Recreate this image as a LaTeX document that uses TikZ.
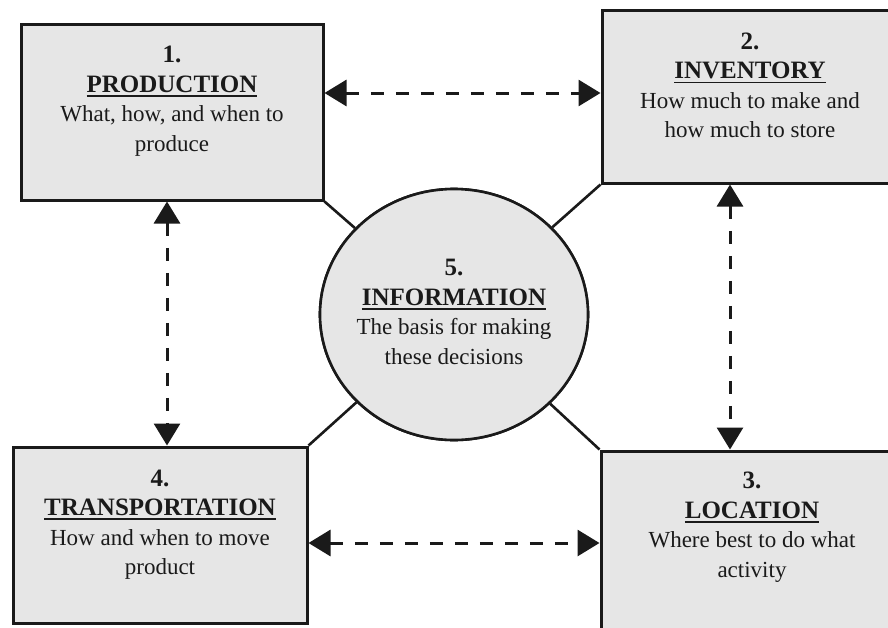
\documentclass[tikz,border=0pt]{standalone}
\usepackage{fontspec}
\setmainfont{Liberation Serif}
\usetikzlibrary{arrows.meta,shapes.geometric}
\definecolor{boxgray}{HTML}{E6E6E6}
\definecolor{ink}{HTML}{1A1A1A}
\newcommand\ulhead[1]{\setbox0\hbox{\bfseries\fontsize{25}{29.5}\selectfont #1}\rlap{\color{ink}\rule[-4.5pt]{\wd0}{1.8pt}}\box0}
\newcommand\numhead[1]{{\bfseries\fontsize{25}{29.5}\selectfont #1}}
\begin{document}
\begin{tikzpicture}[x=1pt,y=-1pt,
  box/.style={draw=ink, line width=3pt, fill=boxgray, rectangle, inner sep=0pt},
  info/.style={draw=ink, line width=2.6pt, fill=boxgray, ellipse, inner sep=0pt, minimum width=268pt, minimum height=251pt},
  txt/.style={align=center, inner sep=0pt, font=\fontsize{23}{29.5}\selectfont, text=ink},
  link/.style={draw=ink, line width=2.6pt},
  dasharrow/.style={draw=ink, line width=3pt, dash pattern=on 13pt off 12pt,
    {Triangle[width=26pt,length=22pt]}-{Triangle[width=26pt,length=22pt]}}
]
\useasboundingbox (0,0) rectangle (888,627);
\fill[white] (0,0) rectangle (888,627);

% boxes
\node[box, minimum width=302pt, minimum height=176pt] (b1) at (172,112) {};
\node[box, minimum width=296pt, minimum height=173pt] (b2) at (750,96.5) {};
\node[box, minimum width=302pt, minimum height=184pt] (b3) at (752,543) {};
\node[box, minimum width=294pt, minimum height=176pt] (b4) at (160,535) {};
\node[info] (c) at (454,314.5) {};

% links box corners to circle
\draw[link] (b1.south east) -- (c);
\draw[link] (b2.south west) -- (c);
\draw[link] (b4.north east) -- (c);
\draw[link] (b3.north west) -- (c);
\node[info] at (c) {};

% texts
\node[txt] (t1) at (172,101) {\numhead{1.}\\ \ulhead{PRODUCTION}\\ What, how, and when to\\ produce};
\node[txt] (t2) at (750,85.5) {\numhead{2.}\\ \ulhead{INVENTORY}\\ How much to make and\\ how much to store};
\node[txt] (t3) at (752,527) {\numhead{3.}\\ \ulhead{LOCATION}\\ Where best to do what\\ activity};
\node[txt] (t4) at (160,524.5) {\numhead{4.}\\ \ulhead{TRANSPORTATION}\\ How and when to move\\ product};
\node[txt] (t5) at (454,312) {\numhead{5.}\\ \ulhead{INFORMATION}\\ The basis for making\\ these decisions};

% dashed arrows
\draw[dasharrow] ([yshift=19pt]b1.east) -- ([yshift=3.5pt]b2.west);
\draw[dasharrow] ([xshift=-5pt]b1.south) -- ([xshift=7pt]b4.north);
\draw[dasharrow] ([xshift=-20pt]b2.south) -- ([xshift=-22pt]b3.north);
\draw[dasharrow] ([yshift=-8pt]b4.east) -- (b3.west);
\end{tikzpicture}
\end{document}
